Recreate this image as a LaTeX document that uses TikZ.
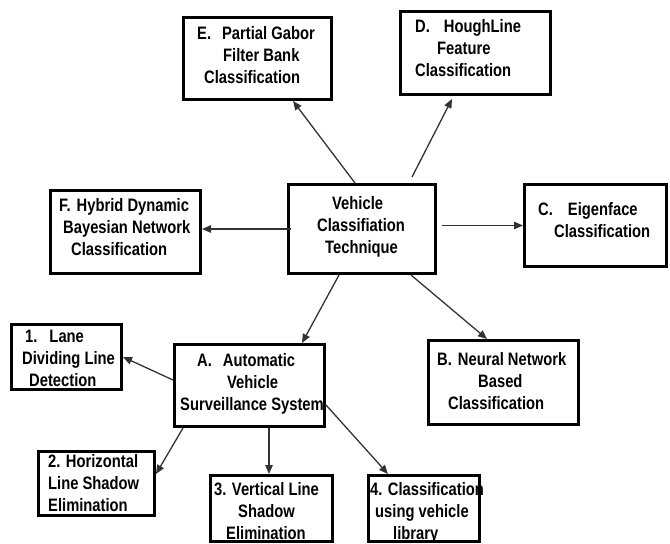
\documentclass[tikz,border=0pt]{standalone}
\usepackage{fontspec}
\setmainfont{Liberation Sans}[FakeStretch=0.82]
\usetikzlibrary{arrows.meta}
% empty framed box given by its outer corners (x1,y1) and (x2,y2)
\newcommand\mkframe[5]{%
  \node[frame, minimum width={#4-#2-2.6}, minimum height={#5-#3-2.6}]
    (#1) at ({(#2+#4)/2},{(#3+#5)/2}) {};}
\begin{document}
\begin{tikzpicture}[x=1pt,y=-1pt,
  frame/.style={draw=black, line width=2.6pt, inner sep=0pt, rectangle},
  txt/.style={anchor=north west, inner sep=0pt, align=left,
    font=\bfseries\fontsize{18}{22}\selectfont},
  arr/.style={draw=black!80, line width=1.3pt,
    -{Triangle[length=9pt,width=7.5pt]}}]
\useasboundingbox (0,0) rectangle (670,544);

% boxes
\mkframe{bE}{182}{16}{333}{101}
\mkframe{bD}{399}{10}{552}{96}
\mkframe{bF}{49}{189}{202}{275}
\mkframe{ct}{287}{183}{437}{275}
\mkframe{bC}{523}{183}{668}{268}
\mkframe{n1}{10}{323}{123}{391}
\mkframe{bA}{173}{343}{326}{428}
\mkframe{bB}{427}{339}{580}{426}
\mkframe{n2}{37}{450}{156}{517}
\mkframe{n3}{209}{474}{334}{543}
\mkframe{n4}{367}{474}{481}{543}

% labels
\node[txt] (tE) at (197,26) {E.\hspace{11pt}Partial Gabor\\\hspace*{26pt}Filter Bank\\\hspace*{7pt}Classification};
\node[txt] (tD) at (415,19) {D.\hspace{14pt}HoughLine\\\hspace*{22pt}Feature\\Classification};
\node[txt] (tF) at (59,198) {F.\hspace{6pt}Hybrid Dynamic\\\hspace*{4pt}Bayesian Network\\\hspace*{12pt}Classification};
\node[txt] (tct) at (317,196) {\hspace*{15pt}Vehicle\\Classifiation\\\hspace*{8pt}Technique};
\node[txt] (tC) at (538,202) {C.\hspace{15pt}Eigenface\\\hspace*{16pt}Classification};
\node[txt] (t1) at (22,330) {\hspace*{3pt}1.\hspace{12pt}Lane\\Dividing Line\\\hspace*{7pt}Detection};
\node[txt] (tA) at (180,353) {\hspace*{17pt}A.\hspace{11pt}Automatic\\\hspace*{47pt}Vehicle\\Surveillance System};
\node[txt] (tB) at (437,352) {B.\hspace{6pt}Neural Network\\\hspace*{41pt}Based\\\hspace*{11pt}Classification};
\node[txt] (t2) at (48,454) {2. Horizontal\\Line Shadow\\Elimination};
\node[txt] (t3) at (214,482) {3. Vertical Line\\\hspace*{24pt}Shadow\\\hspace*{12pt}Elimination};
\node[txt] (t4) at (370,482) {4. Classification\\\hspace*{5pt}using vehicle\\\hspace*{23pt}library};

% connectors from the central technique box
\draw[arr] ([xshift=68pt]ct.north west) -- ([xshift=111pt]bE.south west);
\draw[arr] ([xshift=125pt,yshift=6pt]ct.north west) -- ([xshift=53pt,yshift=-3pt]bD.south west);
\draw[arr] ([xshift=4pt]ct.west) -- (ct.west -| bF.east);
\draw[arr] ([xshift=5pt]ct.east |- bC.west) -- (bC.west);
\draw[arr] ([xshift=52pt]ct.south west) -- ([xshift=129pt]bA.north west);
\draw[arr] ([xshift=124pt]ct.south west) -- ([xshift=60pt]bB.north west);

% connectors from the surveillance system box
\draw[arr] ([yshift=5.5pt]bA.west) -- (n1.east);
\draw[arr] ([xshift=10pt]bA.south west) -- ([yshift=-24pt]n2.north east);
\draw[arr] ([xshift=96pt]bA.south west) -- ([xshift=96pt]bA.south west |- n3.north);
\draw[arr] ([yshift=-19.5pt]bA.east) -- ([xshift=21pt]n4.north west);
\end{tikzpicture}
\end{document}
